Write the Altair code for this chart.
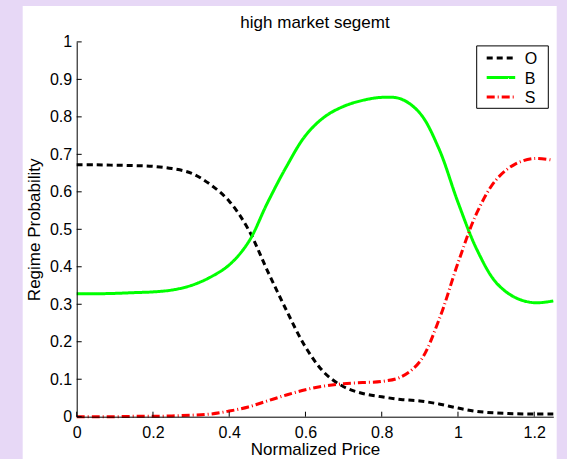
import altair as alt
import pandas as pd

# Regime probabilities versus normalized price
price = [0, 0.05, 0.1, 0.15, 0.2, 0.25, 0.3, 0.35, 0.4, 0.45, 0.5, 0.55, 0.6,
         0.65, 0.7, 0.75, 0.8, 0.85, 0.9, 0.95, 1.0, 1.05, 1.1, 1.15, 1.2, 1.25]
prob_o = [0.672, 0.672, 0.671, 0.670, 0.668, 0.662, 0.650, 0.620, 0.575, 0.500,
          0.390, 0.284, 0.186, 0.117, 0.080, 0.062, 0.053, 0.046, 0.042, 0.034,
          0.023, 0.014, 0.010, 0.008, 0.007, 0.007]
prob_b = [0.328, 0.328, 0.329, 0.331, 0.333, 0.338, 0.350, 0.372, 0.405, 0.465,
          0.570, 0.667, 0.750, 0.800, 0.828, 0.844, 0.852, 0.848, 0.810, 0.715,
          0.572, 0.445, 0.358, 0.318, 0.304, 0.309]
prob_s = [0.000, 0.000, 0.000, 0.001, 0.001, 0.002, 0.004, 0.007, 0.015, 0.026,
          0.042, 0.058, 0.072, 0.082, 0.088, 0.091, 0.094, 0.106, 0.147, 0.258,
          0.410, 0.545, 0.632, 0.674, 0.689, 0.684]

regimes = ["O", "B", "S"]
regime_colors = ["#000000", "#00ff00", "#ff0000"]
regime_dashes = [[6, 4], [1, 0], [8, 3, 1, 3]]

x_ticks = [0, 0.2, 0.4, 0.6, 0.8, 1.0, 1.2]
y_ticks = [0, 0.1, 0.2, 0.3, 0.4, 0.5, 0.6, 0.7, 0.8, 0.9, 1.0]

FONT = "Liberation Sans"
W, H = 476.6, 374.8

rows = []
for name, vals in zip(regimes, [prob_o, prob_b, prob_s]):
    for x, p in zip(price, vals):
        rows.append({"price": x, "prob": p, "regime": name})
df = pd.DataFrame(rows)

xscale = alt.Scale(domain=[0, 1.25], nice=False, zero=False)
yscale = alt.Scale(domain=[0, 1], nice=False)

x_axis = alt.Axis(values=x_ticks, format="~g", ticks=False, tickSize=0,
                  labelPadding=8, labelFlush=False, labelOverlap=False,
                  titleX=W / 2, titleY=37.5, titleBaseline="alphabetic",
                  zindex=2)
y_axis = alt.Axis(values=y_ticks, format="~g", ticks=False, tickSize=0,
                  labelPadding=5, labelOverlap=False, labelFlush=False,
                  titleX=-36.7, titleY=H / 2, titleBaseline="alphabetic",
                  titleAngle=270, zindex=2)

one = pd.DataFrame({"k": [0]})

# white figure panel behind the axes
panel = alt.Chart(one).mark_rect(color="white").encode(
    x=alt.value(-54), x2=alt.value(480),
    y=alt.value(-35.9), y2=alt.value(H + 60),
)

lines = alt.Chart(df).mark_line(strokeWidth=3, strokeCap="butt",
                                interpolate="catmull-rom").encode(
    x=alt.X("price:Q", scale=xscale, axis=x_axis, title="Normalized Price"),
    y=alt.Y("prob:Q", scale=yscale, axis=y_axis, title="Regime Probability"),
    color=alt.Color("regime:N", sort=regimes,
                    scale=alt.Scale(domain=regimes, range=regime_colors),
                    legend=None),
    strokeDash=alt.StrokeDash("regime:N", sort=regimes,
                              scale=alt.Scale(domain=regimes, range=regime_dashes),
                              legend=None),
)

# inward tick marks on both axes
xt = alt.Chart(pd.DataFrame({"price": x_ticks})).mark_rule(
    color="black", strokeWidth=1).encode(
    x=alt.X("price:Q", scale=xscale, axis=x_axis, title="Normalized Price"),
    y=alt.value(H), y2=alt.value(H - 5),
)
yt = alt.Chart(pd.DataFrame({"prob": y_ticks})).mark_rule(
    color="black", strokeWidth=1).encode(
    y=alt.Y("prob:Q", scale=yscale, axis=y_axis, title="Regime Probability"),
    x=alt.value(0), x2=alt.value(5),
)

title = alt.Chart(one).mark_text(
    text="high market segemt", font=FONT, fontSize=17, color="black",
    align="center", baseline="alphabetic").encode(
    x=alt.value(W / 2), y=alt.value(-14),
)

# boxed key in the upper right corner
LX, LY, LW, LH = 400, 4, 71.6, 62.4
key_layers = [
    alt.Chart(one).mark_rect(fill="white", stroke="black", strokeWidth=1).encode(
        x=alt.value(LX), x2=alt.value(LX + LW),
        y=alt.value(LY), y2=alt.value(LY + LH),
    )
]
for i, (name, col, dash) in enumerate(zip(regimes, regime_colors, regime_dashes)):
    ky = LY + 12.1 + 19.5 * i
    key_layers.append(
        alt.Chart(one).mark_rule(color=col, strokeWidth=3, strokeCap="butt",
                                 strokeDash=dash).encode(
            x=alt.value(LX + 10), x2=alt.value(LX + 38.5),
            y=alt.value(ky),
        )
    )
    key_layers.append(
        alt.Chart(one).mark_text(text=name, font=FONT, fontSize=16,
                                 color="black", align="left",
                                 baseline="middle").encode(
            x=alt.value(LX + 48), y=alt.value(ky + 1),
        )
    )

chart = alt.layer(panel, lines, xt, yt, title, *key_layers).properties(
    width=W, height=H,
    background="#e7d8f6",
    padding={"left": 76.7, "top": 41.9, "right": 13.7, "bottom": 42.3},
    autosize=alt.AutoSizeParams(type="none"),
).configure_view(stroke=None).configure_axis(
    domainColor="black", domainWidth=1, grid=False,
    labelFont=FONT, labelFontSize=16, labelColor="black",
    labelOverlap=False, labelFlush=False,
    titleFont=FONT, titleFontSize=17, titleFontWeight="normal",
    titleColor="black",
)

chart.save("out.html", embed_options={"renderer": "svg", "actions": False})
